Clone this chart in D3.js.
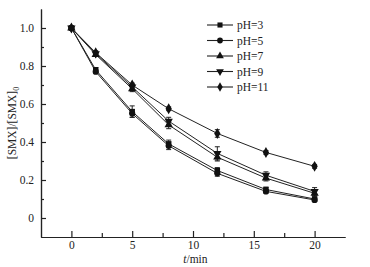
<!DOCTYPE html>
<html>
<head>
  <meta charset="utf-8">
  <script src="https://d3js.org/d3.v7.min.js"></script>
  <style>
    body { margin: 0; background: #fff; }
    text { font-family: "Liberation Serif", "Times New Roman", serif; fill: #222; }
    .axis path, .axis line { stroke: #222; stroke-width: 1.2; }
    .axis text { font-size: 11.5px; }
  </style>
</head>
<body>
  <script>
    // sampling times (min)
    var times = [0, 2, 5, 8, 12, 16, 20];
    var labels = ['pH=3', 'pH=5', 'pH=7', 'pH=9', 'pH=11'];
    var pH3  = [1.0, 0.78, 0.56, 0.39, 0.25, 0.15, 0.10];
    var pH5  = [1.0, 0.77, 0.55, 0.38, 0.235, 0.14, 0.095];
    var pH7  = [1.0, 0.86, 0.68, 0.49, 0.32, 0.21, 0.13];
    var pH9  = [1.0, 0.865, 0.69, 0.51, 0.34, 0.225, 0.14];
    var pH11 = [1.0, 0.87, 0.70, 0.575, 0.445, 0.345, 0.272];
    // error bar half-heights
    var err3  = [0, 0.012, 0.03, 0.02, 0.015, 0.012, 0.01];
    var err5  = [0, 0.01, 0.02, 0.02, 0.015, 0.01, 0.01];
    var err7  = [0, 0.01, 0.015, 0.02, 0.02, 0.015, 0.015];
    var err9  = [0, 0.01, 0.015, 0.02, 0.035, 0.018, 0.02];
    var err11 = [0, 0.01, 0.01, 0.01, 0.02, 0.01, 0.01];
    var yTicks = [0, 0.2, 0.4, 0.6, 0.8, 1.0];
    var xTicks = [0, 5, 10, 15, 20];

    var series = [
      {name: labels[0], vals: pH3, err: err3, sym: d3.symbolSquare, rot: 0},
      {name: labels[1], vals: pH5, err: err5, sym: d3.symbolCircle, rot: 0},
      {name: labels[2], vals: pH7, err: err7, sym: d3.symbolTriangle, rot: 0},
      {name: labels[3], vals: pH9, err: err9, sym: d3.symbolTriangle, rot: 180},
      {name: labels[4], vals: pH11, err: err11, sym: d3.symbolDiamond, rot: 0}
    ];

    var w = 370, h = 267;
    var margin = {top: 9, right: 25, bottom: 30, left: 41};
    var innerW = w - margin.left - margin.right,
        innerH = h - margin.top - margin.bottom;

    var x = d3.scaleLinear().domain([-2.5, 22.5]).range([0, innerW]);
    var y = d3.scaleLinear().domain([-0.1, 1.1]).range([innerH, 0]);

    var svg = d3.select('body').append('svg')
        .attr('width', w)
        .attr('height', h)
      .append('g')
        .attr('transform', 'translate(' + [margin.left, margin.top] + ')');

    // axes (ticks point inward)
    svg.append('g')
      .attr('class', 'x axis')
      .attr('transform', 'translate(0,' + innerH + ')')
      .call(d3.axisBottom(x).tickValues(xTicks).tickSize(-6).tickSizeOuter(0).tickPadding(4));
    svg.append('g')
      .attr('class', 'x axis minor')
      .attr('transform', 'translate(0,' + innerH + ')')
      .call(d3.axisBottom(x).tickValues([2.5, 7.5, 12.5, 17.5]).tickSize(-4).tickSizeOuter(0).tickFormat(''));

    svg.append('g')
      .attr('class', 'y axis')
      .call(d3.axisLeft(y).tickValues(yTicks).tickSize(-5).tickSizeOuter(0).tickPadding(7)
        .tickFormat(function(d) { return d === 0 ? '0' : d.toFixed(1); }));
    svg.append('g')
      .attr('class', 'y axis minor')
      .call(d3.axisLeft(y).tickValues([0.1, 0.3, 0.5, 0.7, 0.9]).tickSize(-3).tickSizeOuter(0).tickFormat(''));

    // axis titles
    var xl = svg.append('text')
      .attr('x', x(10.2))
      .attr('y', innerH + 26)
      .attr('text-anchor', 'middle')
      .style('font-size', '11.5px');
    xl.append('tspan').style('font-style', 'italic').text('t');
    xl.append('tspan').text('/min');

    var yl = svg.append('text')
      .attr('transform', 'translate(-25,' + y(0.5) + ') rotate(-90)')
      .attr('text-anchor', 'middle')
      .style('font-size', '11.5px');
    yl.append('tspan').text('[SMX]/[SMX]');
    yl.append('tspan').attr('dy', 3).style('font-size', '8px').text('0');

    var line = d3.line()
      .x(function(d, i) { return x(times[i]); })
      .y(function(d) { return y(d); });

    // error bars
    series.forEach(function(s) {
      var g = svg.append('g').attr('stroke', '#222').attr('stroke-width', 1);
      s.vals.forEach(function(v, i) {
        if (!s.err[i]) return;
        var cx = x(times[i]), y0 = y(v - s.err[i]), y1 = y(v + s.err[i]);
        g.append('line').attr('x1', cx).attr('x2', cx).attr('y1', y0).attr('y2', y1);
        g.append('line').attr('x1', cx - 2.5).attr('x2', cx + 2.5).attr('y1', y0).attr('y2', y0);
        g.append('line').attr('x1', cx - 2.5).attr('x2', cx + 2.5).attr('y1', y1).attr('y2', y1);
      });
    });

    // lines
    series.forEach(function(s) {
      svg.append('path')
        .datum(s.vals)
        .attr('fill', 'none')
        .attr('stroke', '#222')
        .attr('stroke-width', 1)
        .attr('d', line);
    });

    // markers
    series.forEach(function(s) {
      svg.append('g').selectAll('path')
        .data(s.vals)
        .enter().append('path')
          .attr('d', d3.symbol().type(s.sym).size(s.sym === d3.symbolDiamond ? 34 : 30))
          .attr('fill', '#111')
          .attr('transform', function(d, i) {
            return 'translate(' + x(times[i]) + ',' + y(d) + ') rotate(' + s.rot + ')';
          });
    });

    // legend
    var legend = svg.append('g')
      .attr('transform', 'translate(' + (207 - margin.left) + ',' + (25 - margin.top) + ')');
    series.forEach(function(s, i) {
      var g = legend.append('g').attr('transform', 'translate(0,' + (i * 15.5) + ')');
      g.append('line').attr('x1', 0).attr('x2', 26).attr('stroke', '#222').attr('stroke-width', 1.1);
      g.append('path')
        .attr('d', d3.symbol().type(s.sym).size(26))
        .attr('fill', '#111')
        .attr('transform', 'translate(13,0) rotate(' + s.rot + ')');
      g.append('text')
        .attr('x', 30)
        .attr('dy', '0.35em')
        .style('font-size', '11.5px')
        .text(s.name);
    });
  </script>
</body>
</html>
